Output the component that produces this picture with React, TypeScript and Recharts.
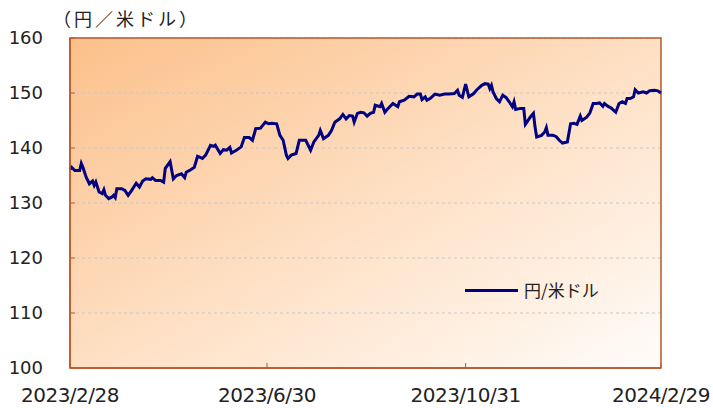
import React from 'react';
import { LineChart, Line, XAxis, YAxis, CartesianGrid, ReferenceArea } from 'recharts';

// days counted from 2023/2/28
const dayOffsets = [
  0, 1, 3, 6, 7, 8, 10, 12, 14, 15, 16, 18, 20, 21, 22, 24, 26, 27, 28, 29,
  32, 34, 36, 38, 41, 43, 45, 47, 50, 51, 53, 56, 58, 59, 62, 64, 66, 69, 71, 72,
  75, 77, 79, 82, 84, 87, 89, 90, 93, 95, 97, 99, 100, 103, 106, 108, 111, 113, 115, 118,
  121, 123, 125, 128, 130, 132, 134, 135, 137, 140, 142, 146, 149, 151, 154, 155, 157, 160, 162, 164,
  167, 169, 171, 173, 175, 176, 178, 180, 182, 184, 186, 188, 189, 192, 193, 195, 197, 200, 203, 204,
  207, 210, 213, 215, 217, 218, 220, 221, 223, 226, 229, 232, 235, 238, 240, 241, 243, 245, 247, 250,
  252, 255, 257, 259, 260, 261, 262, 264, 266, 268, 270, 272, 274, 275, 276, 279, 281, 282, 283, 285,
  287, 288, 289, 292, 294, 295, 296, 299, 301, 303, 305, 308, 310, 312, 314, 316, 317, 320, 322, 324,
  326, 328, 330, 331, 333, 335, 338, 340, 342, 344, 345, 347, 349, 350, 352, 355, 357, 359, 362, 364, 366,
];

const usdJpy = [
  136.1, 136.5, 135.9, 135.9, 137.2, 136.5, 134.7, 133.5, 134.0, 133.2, 133.8, 132.0, 131.7, 132.4, 131.4, 130.8, 131.1, 131.4, 131.0, 132.6,
  132.6, 132.3, 131.4, 132.2, 133.6, 132.9, 134.0, 134.4, 134.3, 134.6, 134.1, 134.1, 133.8, 136.3, 137.5, 134.4, 135.0, 135.3, 134.6, 135.6,
  136.1, 136.5, 138.5, 138.1, 138.7, 140.5, 140.3, 140.5, 139.0, 139.7, 139.6, 140.1, 139.1, 139.6, 140.2, 141.9, 141.9, 141.4, 143.5, 143.6,
  144.7, 144.4, 144.5, 144.4, 142.3, 141.4, 138.7, 138.1, 138.7, 139.0, 141.4, 141.4, 139.6, 141.1, 142.3, 143.2, 141.7, 142.3, 143.2, 144.7,
  145.3, 146.1, 145.3, 145.9, 145.8, 144.7, 146.3, 146.5, 146.4, 145.8, 146.3, 146.5, 147.8, 147.5, 148.1, 146.5, 147.2, 148.1, 147.5, 148.4,
  148.7, 149.4, 149.3, 149.8, 149.8, 148.8, 149.3, 148.7, 149.0, 149.8, 149.6, 149.8, 149.8, 149.9, 150.5, 149.6, 149.2, 151.6, 149.3, 149.9,
  150.6, 151.4, 151.7, 151.6, 150.8, 151.4, 150.2, 149.0, 148.4, 149.6, 149.2, 148.4, 147.5, 148.4, 147.0, 147.2, 147.2, 144.3, 144.7, 145.6,
  146.3, 143.8, 142.0, 142.3, 142.9, 143.7, 142.3, 142.3, 142.1, 141.4, 140.9, 141.1, 144.4, 144.5, 144.3, 145.8, 145.0, 145.6, 146.4, 148.1,
  148.1, 148.2, 147.6, 148.1, 147.6, 147.3, 146.5, 148.1, 148.4, 148.1, 149.0, 149.0, 149.3, 150.6, 150.0, 150.2, 150.0, 150.4, 150.5, 150.4, 150.0,
];

const xTicks = [0, 122, 245, 366];
const xTickLabels = ['2023/2/28', '2023/6/30', '2023/10/31', '2024/2/29'];
const yTicks = [100, 110, 120, 130, 140, 150, 160];

const data = dayOffsets.map((d, i) => ({ day: d, rate: usdJpy[i] }));

const BORDER = '#B9582A';
const NUM_FONT = 'DejaVu Sans, Verdana, sans-serif';
const JP_FONT = '"Noto Sans CJK JP", sans-serif';

export default function App() {
  return (
    <div style={{ position: 'absolute', left: 0, top: 0, width: 713, height: 408, background: '#fff' }}>
      <div
        style={{
          position: 'absolute',
          left: 53,
          top: 5,
          fontFamily: JP_FONT,
          fontSize: 18,
          letterSpacing: 3,
          color: '#222',
          lineHeight: '26px',
          whiteSpace: 'nowrap',
        }}
      >
        （円／米ドル）
      </div>
      <LineChart width={713} height={408} data={data} margin={{ top: 38, right: 52, left: 10, bottom: 0 }}>
        <defs>
          <linearGradient id="bg" x1="0" y1="0" x2="1" y2="1">
            <stop offset="0%" stopColor="#FCC08A" />
            <stop offset="55%" stopColor="#FEE2C8" />
            <stop offset="100%" stopColor="#FFFCF9" />
          </linearGradient>
        </defs>
        <CartesianGrid
          vertical={false}
          stroke="#C8C8C8"
          strokeDasharray="3 3"
          fill="url(#bg)"
          fillOpacity={1}
        />
        <XAxis
          dataKey="day"
          type="number"
          domain={[0, 366]}
          ticks={xTicks}
          tickFormatter={(v: number) => xTickLabels[xTicks.indexOf(v)]}
          interval={0}
          height={40}
          tickSize={-5}
          tickMargin={25}
          axisLine={{ stroke: BORDER, strokeWidth: 1.5 }}
          tickLine={{ stroke: BORDER }}
          tick={{ fill: '#222', fontSize: 20, fontFamily: NUM_FONT, letterSpacing: -0.5 }}
        />
        <YAxis
          type="number"
          domain={[100, 160]}
          ticks={yTicks}
          interval={0}
          width={60}
          tickSize={-5}
          tickMargin={32}
          axisLine={{ stroke: BORDER, strokeWidth: 1.5 }}
          tickLine={{ stroke: BORDER }}
          tick={{ fill: '#222', fontSize: 18, fontFamily: NUM_FONT }}
        />
        <ReferenceArea x1={0} x2={366} y1={100} y2={160} fill="none" stroke={BORDER} strokeWidth={1.5} ifOverflow="visible" />
        <Line
          type="linear"
          dataKey="rate"
          stroke="#000080"
          strokeWidth={3}
          dot={false}
          isAnimationActive={false}
        />
      </LineChart>
      <div style={{ position: 'absolute', left: 465, top: 278, display: 'flex', alignItems: 'center', whiteSpace: 'nowrap' }}>
        <div style={{ width: 53, height: 3, background: '#000080' }} />
        <span style={{ marginLeft: 6, fontFamily: JP_FONT, fontSize: 17, color: '#222', lineHeight: '24px' }}>
          円/米ドル
        </span>
      </div>
    </div>
  );
}
